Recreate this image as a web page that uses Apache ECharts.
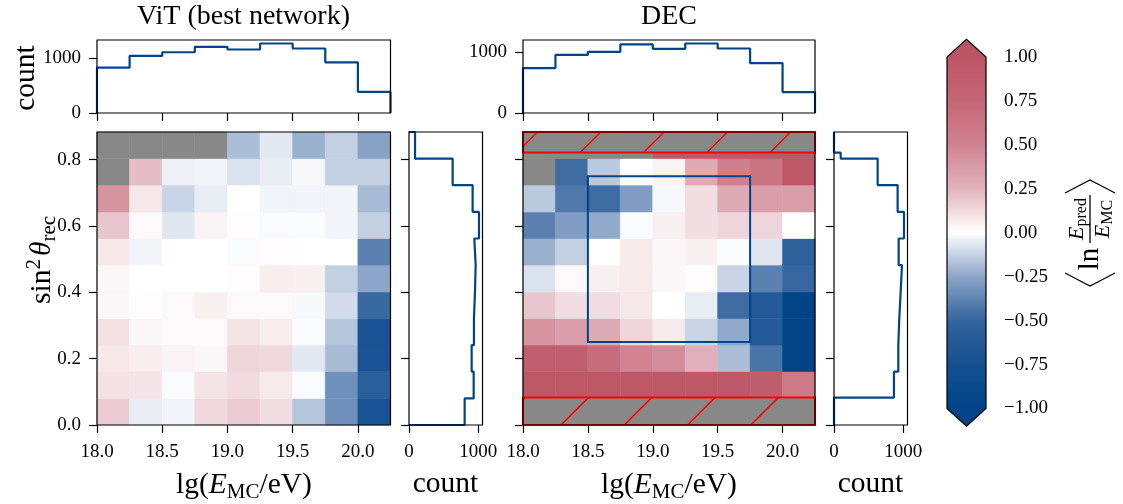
<!DOCTYPE html>
<html><head><meta charset="utf-8">
<script src="https://cdn.jsdelivr.net/npm/echarts@6/dist/echarts.min.js"></script>
<style>html,body{margin:0;padding:0;background:#fff}#c{width:1123px;height:504px}</style>
</head><body><div id="c"></div>
<script>
// ---------------- data ----------------
const energyEdges = [18.0, 18.25, 18.5, 18.75, 19.0, 19.25, 19.5, 19.75, 20.0, 20.25];
const sin2Edges = [0, 0.080, 0.161, 0.241, 0.321, 0.401, 0.482, 0.562, 0.642, 0.723, 0.803, 0.883];
const decSin2Edges = [0.0825, 0.161, 0.241, 0.321, 0.401, 0.482, 0.562, 0.642, 0.723, 0.803, 0.821];
const decCutBands = [[0, 0.0825], [0.821, 0.883]];
const decBox = [18.5, 19.75, 0.25, 0.75];

// mean ln(E_pred/E_MC), rows from sin2 = 0 upward, columns 18.0 .. 20.25
const vitBias = [
  [0.17, -0.05, -0.03, 0.13, 0.17, 0.11, -0.16, -0.33, -0.71],
  [0.10, 0.09, -0.01, 0.09, 0.12, 0.07, -0.01, -0.33, -0.58],
  [0.08, 0.06, 0.04, 0.03, 0.14, 0.13, -0.06, -0.19, -0.71],
  [0.10, 0.03, 0.02, 0.02, 0.09, 0.06, -0.01, -0.16, -0.71],
  [0.03, 0.01, 0.02, 0.05, 0.02, 0.02, -0.02, -0.10, -0.48],
  [0.03, 0.00, 0.00, 0.00, 0.01, 0.06, 0.05, -0.13, -0.25],
  [0.08, -0.03, 0.00, 0.00, -0.01, 0.01, 0.00, 0.00, -0.39],
  [0.19, 0.02, -0.07, 0.04, 0.01, -0.01, -0.01, -0.03, -0.13],
  [0.41, 0.08, -0.12, -0.05, 0.00, -0.03, -0.03, -0.03, -0.19],
  [null, 0.22, -0.04, -0.03, -0.08, -0.05, -0.02, -0.13, -0.13],
  [null, null, null, null, -0.18, -0.06, -0.22, -0.13, -0.26]
];
const decBias = [
  [null, null, null, null, null, null, null, null, null],
  [0.95, 0.95, 0.95, 0.95, 0.95, 0.95, 0.95, 0.88, 0.57],
  [0.85, 0.85, 0.70, 0.50, 0.45, 0.27, -0.18, -0.44, -1.00],
  [0.41, 0.36, 0.30, 0.14, 0.07, -0.12, -0.24, -0.62, -1.00],
  [0.19, 0.11, 0.11, 0.08, 0.00, -0.05, -0.47, -0.62, -1.00],
  [-0.08, 0.02, 0.05, 0.07, 0.03, 0.01, -0.12, -0.39, -0.49],
  [-0.22, -0.13, 0.00, 0.07, 0.03, 0.05, -0.01, -0.07, -0.54],
  [-0.39, -0.28, -0.24, -0.01, 0.05, 0.11, 0.14, 0.14, 0.00],
  [-0.15, -0.42, -0.47, -0.28, -0.02, 0.11, 0.30, 0.36, 0.36],
  [null, -0.47, -0.15, 0.00, 0.04, 0.30, 0.53, 0.63, 0.95],
  [null, null, null, null, 0.95, 0.95, 0.95, 0.95, 0.95]
];

const vitCountsEnergy = [828, 1043, 1110, 1209, 1160, 1270, 1178, 926, 387];
const decCountsEnergy = [739, 955, 1006, 1128, 1056, 1144, 1061, 822, 344];
const vitCountsSin2 = [803, 933, 904, 937, 952, 962, 942, 1010, 918, 630, 87];
const decCountsSin2 = [865, 928, 942, 962, 981, 933, 1010, 918, 630, 96];

const energyTicks = [18.0, 18.5, 19.0, 19.5, 20.0];
const sin2Ticks = [0, 0.2, 0.4, 0.6, 0.8];
const countTicks = [0, 1000];
const biasTicks = [-1, -0.75, -0.5, -0.25, 0, 0.25, 0.5, 0.75, 1];

const colormap = ['#004488', '#145091', '#32649e', '#8ca5c8', '#ffffff', '#e1b4be', '#d08291', '#c46676', '#bb5566'];

// ---------------- helpers ----------------
const serif = '"Liberation Serif", "DejaVu Serif", serif';
const LINE = '#004488';
const NAN_GRAY = '#888888';

function cells(matrix) {
  const out = [];
  matrix.forEach((row, i) => row.forEach((v, j) => {
    out.push([energyEdges[j], energyEdges[j + 1], sin2Edges[i], sin2Edges[i + 1], v == null ? 0 : v, v == null ? 1 : 0]);
  }));
  return out;
}
function stepH(edges, counts) {
  const pts = [[edges[0], 0]];
  counts.forEach((c, i) => { pts.push([edges[i], c], [edges[i + 1], c]); });
  pts.push([edges[edges.length - 1], 0]);
  return pts;
}
function stepV(edges, counts) {
  const pts = [[0, edges[0]]];
  counts.forEach((c, i) => { pts.push([c, edges[i]], [c, edges[i + 1]]); });
  pts.push([0, edges[edges.length - 1]]);
  return pts;
}
function cellItem(params, api) {
  const a = api.coord([api.value(0), api.value(3)]);
  const b = api.coord([api.value(1), api.value(2)]);
  const fill = api.value(5) ? NAN_GRAY : api.visual('color');
  return { type: 'rect', shape: { x: a[0], y: a[1], width: b[0] - a[0], height: b[1] - a[1] },
    style: { fill: fill, stroke: fill, lineWidth: 0.6 } };
}
function hatchItem(params, api) {
  const a = api.coord([api.value(0), api.value(3)]);
  const b = api.coord([api.value(1), api.value(2)]);
  const x0 = a[0], y0 = a[1], x1 = b[0], y1 = b[1];
  const o = api.coord([energyEdges[0], sin2Edges[0]]);
  const spacing = 63.3, base = o[0] + o[1] + 38;
  const children = [{ type: 'rect', shape: { x: x0, y: y0, width: x1 - x0, height: y1 - y0 },
    style: { fill: NAN_GRAY, stroke: '#ff0000', lineWidth: 2 } }];
  const k0 = Math.ceil((x0 + y0 - base) / spacing);
  for (let c = base + k0 * spacing; c <= x1 + y1; c += spacing) {
    let xa = c - y1, ya = y1;
    if (xa < x0) { xa = x0; ya = c - x0; }
    let xb = c - y0, yb = y0;
    if (xb > x1) { xb = x1; yb = c - x1; }
    if (ya < y0 || yb > y1) continue;
    children.push({ type: 'line', shape: { x1: xa, y1: ya, x2: xb, y2: yb }, style: { stroke: '#ff0000', lineWidth: 1.5 } });
  }
  return { type: 'group', children: children };
}
function boxItem(params, api) {
  const a = api.coord([api.value(0), api.value(3)]);
  const b = api.coord([api.value(1), api.value(2)]);
  return { type: 'rect', shape: { x: a[0], y: a[1], width: b[0] - a[0], height: b[1] - a[1] },
    style: { fill: null, stroke: LINE, lineWidth: 2 } };
}
function cbarItem(params, api) {
  const lo = api.value(0), hi = api.value(1), ext = api.value(2);
  const bl = api.coord([0, lo]), tr = api.coord([1, hi]);
  const ba = api.coord([0.5, lo - ext]), ta = api.coord([0.5, hi + ext]);
  const grad = new echarts.graphic.LinearGradient(0, 1, 0, 0,
    colormap.map((c, i) => ({ offset: i / (colormap.length - 1), color: c })));
  return { type: 'group', children: [
    { type: 'rect', shape: { x: bl[0], y: tr[1], width: tr[0] - bl[0], height: bl[1] - tr[1] }, style: { fill: grad } },
    { type: 'polygon', shape: { points: [[bl[0], bl[1] - 0.5], [ba[0], ba[1]], [tr[0], bl[1] - 0.5]] }, style: { fill: colormap[0] } },
    { type: 'polygon', shape: { points: [[bl[0], tr[1] + 0.5], [ta[0], ta[1]], [tr[0], tr[1] + 0.5]] }, style: { fill: colormap[colormap.length - 1] } },
    { type: 'polygon', shape: { points: [[bl[0], bl[1]], [ba[0], ba[1]], [tr[0], bl[1]], [tr[0], tr[1]], [ta[0], ta[1]], [bl[0], tr[1]]] },
      style: { fill: null, stroke: '#000', lineWidth: 1.2 } }
  ] };
}

const fmt1 = v => Number(v).toFixed(1);
const fmtC = v => String(Math.round(v));
const fmt2 = v => Number(v).toFixed(2).replace('-', '\u2212');

function xAx(gi, min, max, ticks, labels, formatter) {
  return { type: 'value', gridIndex: gi, min: min, max: max, splitLine: { show: false },
    axisLine: { show: false },
    axisTick: { show: true, length: 8, customValues: ticks, lineStyle: { color: '#000', width: 1.2 } },
    axisLabel: { show: labels, customValues: ticks, formatter: formatter, color: '#000', fontFamily: serif, fontSize: 19, margin: 18 } };
}
function yAx(gi, min, max, ticks, labels, formatter, pos) {
  return { type: 'value', gridIndex: gi, min: min, max: max, position: pos || 'left', splitLine: { show: false },
    axisLine: { show: false },
    axisTick: { show: true, length: 8, customValues: ticks, lineStyle: { color: '#000', width: 1.2 } },
    axisLabel: { show: labels, customValues: ticks, formatter: formatter, color: '#000', fontFamily: serif, fontSize: 19, margin: pos === 'right' ? 18 : 16 } };
}
function grid(left, top, width, height) {
  return { left: left, top: top, width: width, height: height, show: true, borderColor: '#000', borderWidth: 1.2,
    backgroundColor: 'transparent', z: 10, containLabel: false, outerBoundsMode: 'none' };
}

const sinMin = sin2Edges[0], sinMax = sin2Edges[sin2Edges.length - 1];
const eMin = energyEdges[0], eMax = energyEdges[energyEdges.length - 1];
const vitTopMax = Math.max(...vitCountsEnergy) * 1.05;
const decTopMax = Math.max(...decCountsEnergy) * 1.05;
const sideMax = Math.max(...vitCountsSin2, ...decCountsSin2) * 1.05;

const LBL = 29.5;
const rich = {
  r: { fontFamily: serif, fontSize: LBL, lineHeight: 36, verticalAlign: 'middle', fill: '#000', color: '#000' },
  sp: { fontFamily: serif, fontSize: 12, lineHeight: 36, verticalAlign: 'middle', fill: '#000', color: '#000' },
  i: { fontFamily: serif, fontSize: LBL, fontStyle: 'italic', lineHeight: 36, verticalAlign: 'middle', fill: '#000', color: '#000' },
  sub: { fontFamily: serif, fontSize: 21, lineHeight: 21, verticalAlign: 'bottom', fill: '#000', color: '#000' },
  sup: { fontFamily: serif, fontSize: 21, lineHeight: 21, verticalAlign: 'top', fill: '#000', color: '#000' }
};
const richFrac = {
  i: { fontFamily: serif, fontSize: 22, fontStyle: 'italic', lineHeight: 26, verticalAlign: 'middle', fill: '#000', color: '#000' },
  s: { fontFamily: serif, fontSize: 16, lineHeight: 16, verticalAlign: 'bottom', fill: '#000', color: '#000' }
};
function plain(x, y, text, rot, size) {
  return { type: 'text', x: x, y: y, rotation: rot || 0,
    style: { text: text, font: (size || LBL) + 'px ' + serif, fill: '#000', align: 'center', verticalAlign: 'middle' } };
}
function richText(x, y, text, rot, r) {
  return { type: 'text', x: x, y: y, rotation: rot || 0,
    style: { text: text, rich: r || rich, fill: '#000', align: 'center', verticalAlign: 'middle' } };
}

const option = {
  animation: false,
  backgroundColor: '#fff',
  grid: [
    grid(97, 40, 293.5, 73),
    grid(97, 132, 293.5, 293),
    grid(409, 132, 73.5, 293),
    grid(523, 40, 292, 73),
    grid(523, 132, 292, 293),
    grid(834, 132, 73.5, 293),
    Object.assign(grid(947, 57, 39, 351.5), { show: false })
  ],
  xAxis: [
    xAx(0, eMin, eMax, energyTicks, false),
    xAx(1, eMin, eMax, energyTicks, true, fmt1),
    xAx(2, 0, sideMax, countTicks, true, fmtC),
    xAx(3, eMin, eMax, energyTicks, false),
    xAx(4, eMin, eMax, energyTicks, true, fmt1),
    xAx(5, 0, sideMax, countTicks, true, fmtC),
    { type: 'value', gridIndex: 6, min: 0, max: 1, show: false }
  ],
  yAxis: [
    yAx(0, 0, vitTopMax, countTicks, true, fmtC),
    yAx(1, sinMin, sinMax, sin2Ticks, true, fmt1),
    yAx(2, sinMin, sinMax, sin2Ticks, false),
    yAx(3, 0, decTopMax, countTicks, true, fmtC),
    yAx(4, sinMin, sinMax, sin2Ticks, false),
    yAx(5, sinMin, sinMax, sin2Ticks, false),
    yAx(6, -1, 1, biasTicks, true, fmt2, 'right')
  ],
  visualMap: { type: 'continuous', show: false, min: -1, max: 1, dimension: 4, seriesIndex: [1, 4],
    inRange: { color: colormap } },
  series: [
    { type: 'line', xAxisIndex: 0, yAxisIndex: 0, data: stepH(energyEdges, vitCountsEnergy), symbol: 'none',
      lineStyle: { color: LINE, width: 2.2 }, z: 3 },
    { type: 'custom', xAxisIndex: 1, yAxisIndex: 1, data: cells(vitBias), renderItem: cellItem,
      encode: { x: [0, 1], y: [2, 3] }, z: 2 },
    { type: 'line', xAxisIndex: 2, yAxisIndex: 2, data: stepV(sin2Edges, vitCountsSin2), symbol: 'none',
      lineStyle: { color: LINE, width: 2.2 }, z: 3 },
    { type: 'line', xAxisIndex: 3, yAxisIndex: 3, data: stepH(energyEdges, decCountsEnergy), symbol: 'none',
      lineStyle: { color: LINE, width: 2.2 }, z: 3 },
    { type: 'custom', xAxisIndex: 4, yAxisIndex: 4, data: cells(decBias), renderItem: cellItem,
      encode: { x: [0, 1], y: [2, 3] }, z: 2 },
    { type: 'custom', xAxisIndex: 4, yAxisIndex: 4, data: decCutBands.map(b => [eMin, eMax, b[0], b[1]]),
      renderItem: hatchItem, encode: { x: [0, 1], y: [2, 3] }, z: 3 },
    { type: 'custom', xAxisIndex: 4, yAxisIndex: 4, data: [decBox], renderItem: boxItem,
      encode: { x: [0, 1], y: [2, 3] }, z: 4 },
    { type: 'line', xAxisIndex: 5, yAxisIndex: 5,
      data: [[0, sinMin]].concat(stepV(decSin2Edges, decCountsSin2), [[0, sinMax]]), symbol: 'none',
      lineStyle: { color: LINE, width: 2.2 }, z: 3 },
    { type: 'custom', xAxisIndex: 6, yAxisIndex: 6, data: [[biasTicks[0], biasTicks[biasTicks.length - 1], 0.1]],
      renderItem: cbarItem, clip: false, z: 2 }
  ],
  graphic: [
    plain(243.5, 17, 'ViT (best network)', 0, 28),
    plain(669, 17, 'DEC', 0, 28),
    plain(26, 78, 'count', Math.PI / 2),
    richText(42, 260, '{r|sin}{sup|2}{sp| }{i|\u03b8}{sub|rec}', Math.PI / 2),
    richText(244, 485, '{r|lg(}{i|E}{sub|MC}{r|/eV)}'),
    richText(669, 485, '{r|lg(}{i|E}{sub|MC}{r|/eV)}'),
    plain(445.5, 484, 'count'),
    plain(870.5, 484, 'count'),
    { type: 'group', x: 1090, y: 233, rotation: Math.PI / 2, children: [
      { type: 'polyline', shape: { points: [[-40, -25], [-53, 0], [-40, 25]] }, style: { stroke: '#000', lineWidth: 1.2, fill: null } },
      { type: 'text', x: -26, y: 0, style: { text: 'ln', font: '29px ' + serif, fill: '#000', align: 'center', verticalAlign: 'middle' } },
      { type: 'line', shape: { x1: -10, y1: 0, x2: 38, y2: 0 }, style: { stroke: '#000', lineWidth: 1.3 } },
      { type: 'text', x: 14, y: -13, style: { text: '{i|E}{s|pred}', rich: richFrac, align: 'center', verticalAlign: 'middle' } },
      { type: 'text', x: 14, y: 13, style: { text: '{i|E}{s|MC}', rich: richFrac, align: 'center', verticalAlign: 'middle' } },
      { type: 'polyline', shape: { points: [[40, -25], [53, 0], [40, 25]] }, style: { stroke: '#000', lineWidth: 1.2, fill: null } }
    ] }
  ]
};
const chart = echarts.init(document.getElementById('c'), null, { renderer: 'canvas' });
chart.setOption(option);
</script></body></html>
